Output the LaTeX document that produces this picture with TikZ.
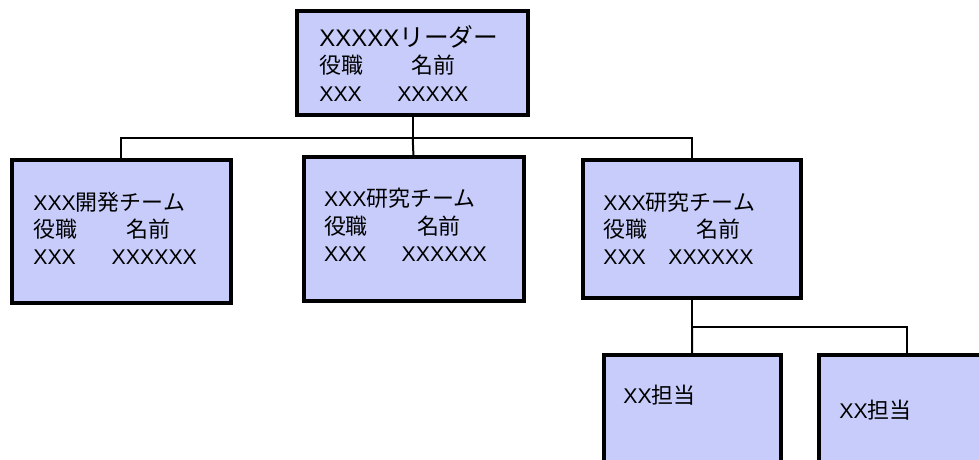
\documentclass[tikz,border=0pt]{standalone}
\usepackage{fontspec}
\setmainfont{Liberation Sans}
\newfontfamily\jp[Scale=1.03]{Noto Sans CJK JP}
\newcommand\J[1]{{\jp #1}}
\definecolor{boxfill}{RGB}{199,204,250}
\tikzset{
  orgbox/.style={draw=black, fill=boxfill, line width=4pt, rectangle, outer sep=0pt, inner sep=0pt},
  orgtext/.style={anchor=base west, inner sep=0pt, outer sep=0pt, text=black},
  link/.style={draw=black, line width=2pt}
}
\begin{document}
\begin{tikzpicture}[x=1pt,y=-1pt]
\useasboundingbox (0,0) rectangle (979,459);
\clip (0,0) rectangle (979,459);
\fill[white] (0,0) rectangle (979,459);
% boxes
\node[orgbox, minimum width=231pt, minimum height=104pt] (top) at (412.7,63) {};
\node[orgbox, minimum width=219.3pt, minimum height=143pt] (left) at (121.3,231.5) {};
\node[orgbox, minimum width=220pt, minimum height=143.5pt] (mid) at (413.5,228.8) {};
\node[orgbox, minimum width=218pt, minimum height=138pt] (right) at (692,229) {};
\node[orgbox, minimum width=177pt, minimum height=125pt] (bl) at (692.2,417.8) {};
\node[orgbox, minimum width=177pt, minimum height=125pt] (br) at (907,417.8) {};
% junctions
\coordinate (j1) at (412.7,138);
\coordinate (j2) at (692,327);
% connectors
\draw[link] (top.south) -- (j1);
\draw[link] (left.north) -- (left.north |- j1) -- (right.north |- j1) -- (right.north);
\draw[link] (j1) -- (mid.north);
\draw[link] (right.south) -- (j2);
\draw[link] (j2) -- (bl.north);
\draw[link] (j2) -- (br.north |- j2) -- (br.north);
% texts
\node[orgtext] (topT) at (319.3,46) {\fontsize{21.3}{27.85}\selectfont\begin{tabular}[t]{@{}l@{}}{\fontsize{24}{27.85}\selectfont XXXXX\J{リーダー}}\\\makebox[92.4pt][l]{\J{役職}}\J{名前}\\\makebox[78pt][l]{XXX}XXXXX\end{tabular}};
\node[orgtext] (leftT) at (33.3,210) {\fontsize{21.3}{27.2}\selectfont\begin{tabular}[t]{@{}l@{}}XXX\J{開発チーム}\\\makebox[93.4pt][l]{\J{役職}}\J{名前}\\\makebox[78.4pt][l]{XXX}XXXXXX\end{tabular}};
\node[orgtext] (midT) at (324,206.7) {\fontsize{21.3}{27.5}\selectfont\begin{tabular}[t]{@{}l@{}}XXX\J{研究チーム}\\\makebox[93pt][l]{\J{役職}}\J{名前}\\\makebox[77.7pt][l]{XXX}XXXXXX\end{tabular}};
\node[orgtext] (rightT) at (603.3,210) {\fontsize{21.3}{27}\selectfont\begin{tabular}[t]{@{}l@{}}XXX\J{研究チーム}\\\makebox[93.4pt][l]{\J{役職}}\J{名前}\\\makebox[65pt][l]{XXX}XXXXXX\end{tabular}};
\node[orgtext] (blT) at (623.3,403.3) {\fontsize{21.3}{27}\selectfont XX\J{担当}};
\node[orgtext] (brT) at (839.3,418.3) {\fontsize{21.3}{27}\selectfont XX\J{担当}};
\end{tikzpicture}
\end{document}
